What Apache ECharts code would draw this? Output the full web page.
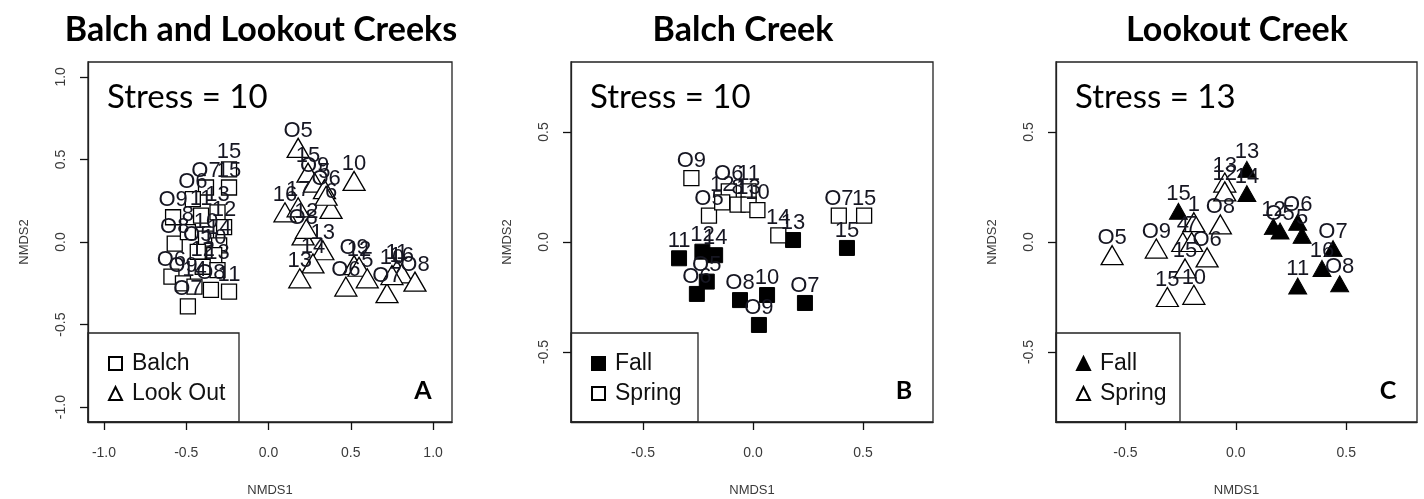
<!DOCTYPE html>
<html>
<head>
<meta charset="utf-8">
<script src="https://cdn.jsdelivr.net/npm/echarts@6/dist/echarts.min.js"></script>
<style>
  html, body { margin: 0; padding: 0; background: #fff; }
  #chart { width: 1424px; height: 499px; }
</style>
</head>
<body>
<div id="chart"></div>
<script>
// panel A: both creeks, [NMDS1, NMDS2, sample label]
const allBalch = [
  [-0.38, 0.33, 'O7'], [-0.24, 0.44, '15'], [-0.24, 0.33, '15'], [-0.46, 0.26, 'O6'],
  [-0.58, 0.15, 'O9'], [-0.31, 0.18, '13'], [-0.27, 0.09, '12'], [-0.41, 0.16, '11'],
  [-0.57, -0.01, 'O8'], [-0.49, 0.06, '8'], [-0.38, 0.02, '10'], [-0.30, -0.02, '14'],
  [-0.43, -0.06, 'O5'], [-0.33, -0.08, '10'], [-0.59, -0.21, 'O6'], [-0.40, -0.15, '12'],
  [-0.31, -0.17, '13'], [-0.52, -0.25, 'O9'], [-0.45, -0.27, '14'], [-0.35, -0.29, 'O8'],
  [-0.24, -0.30, '11'], [-0.49, -0.39, 'O7']
];
const allLookout = [
  [0.18, 0.57, 'O5'], [0.24, 0.42, '15'], [0.28, 0.36, 'O9'], [0.34, 0.32, '5'],
  [0.52, 0.37, '10'], [0.38, 0.20, '6'], [0.10, 0.18, '16'], [0.18, 0.21, '17'],
  [0.35, 0.28, 'O6'], [0.21, 0.04, 'O8'], [0.23, 0.08, '12'], [0.33, -0.05, '13'],
  [0.27, -0.13, '14'], [0.19, -0.22, '13'], [0.47, -0.27, 'O6'], [0.52, -0.14, 'O9'],
  [0.55, -0.15, '12'], [0.60, -0.22, '5'], [0.72, -0.31, 'O7'], [0.78, -0.17, '11'],
  [0.81, -0.19, '16'], [0.89, -0.24, 'O8'], [0.75, -0.20, '10']
];

// panel B: Balch Creek by season
const balchFall = [
  [-0.336, -0.074, '11'], [-0.23, -0.044, '12'], [-0.172, -0.06, '14'], [-0.21, -0.18, 'O5'],
  [-0.255, -0.236, 'O6'], [-0.059, -0.264, 'O8'], [0.064, -0.241, '10'], [0.027, -0.377, 'O9'],
  [0.236, -0.277, 'O7'], [0.182, 0.009, '13'], [0.427, -0.027, '15']
];
const balchSpring = [
  [-0.28, 0.29, 'O9'], [-0.20, 0.12, 'O5'], [-0.11, 0.23, 'O6'], [-0.02, 0.23, '11'],
  [-0.14, 0.18, '12'], [-0.07, 0.17, '8'], [-0.02, 0.17, '13'], [0.02, 0.145, '10'],
  [0.115, 0.03, '14'], [0.39, 0.12, 'O7'], [0.505, 0.12, '15']
];

// panel C: Lookout Creek by season
const lookFall = [
  [0.05, 0.33, '13'], [0.05, 0.22, '14'], [0.17, 0.07, '12'], [0.20, 0.05, 'O5'],
  [0.28, 0.09, 'O6'], [0.30, 0.03, '5'], [0.44, -0.03, 'O7'], [0.39, -0.12, '16'],
  [0.28, -0.20, '11'], [0.47, -0.19, 'O8'], [-0.26, 0.14, '15']
];
const lookSpring = [
  [-0.56, -0.06, 'O5'], [-0.36, -0.03, 'O9'], [-0.24, 0.0, '4'], [-0.20, 0.0, '7'],
  [-0.19, 0.09, '1'], [-0.13, -0.07, 'O6'], [-0.23, -0.12, '15'], [-0.31, -0.25, '15'],
  [-0.19, -0.24, '10'], [-0.07, 0.08, 'O8'], [-0.05, 0.27, '13'], [-0.05, 0.23, '12']
];

const ticksA = [-1.0, -0.5, 0.0, 0.5, 1.0];
const ticksBC = [-0.5, 0.0, 0.5];

const panelTitles = ['Balch and Lookout Creeks', 'Balch Creek', 'Lookout Creek'];
const stressText = ['Stress = 10', 'Stress = 10', 'Stress = 13'];
const panelLetters = ['A', 'B', 'C'];

const chart = echarts.init(document.getElementById('chart'));

const boxes = [
  { left: 88, width: 364, xr: [-1.097, 1.115], yr: [-1.09, 1.09], ticks: ticksA, legendW: 151, titleX: 261 },
  { left: 571, width: 362, xr: [-0.827, 0.818], yr: [-0.818, 0.818], ticks: ticksBC, legendW: 127, titleX: 743 },
  { left: 1056, width: 361, xr: [-0.814, 0.82], yr: [-0.818, 0.818], ticks: ticksBC, legendW: 124, titleX: 1237 }
];
const TOP = 62, H = 360;
const tickFont = { fontFamily: 'Liberation Sans', fontSize: 14, color: '#3a3a3a' };
const edge = { show: true, onZero: false, lineStyle: { color: '#222', width: 1.3 } };

const grid = boxes.map(b => ({
  left: b.left, top: TOP, width: b.width, height: H,
  outerBoundsMode: 'none', containLabel: false,
  show: true, borderColor: '#222', borderWidth: 1.3, backgroundColor: 'transparent'
}));

const fmt = v => v.toFixed(1);

const xAxis = boxes.map((b, i) => ({
  type: 'value', gridIndex: i, position: 'bottom', min: b.xr[0], max: b.xr[1],
  splitLine: { show: false }, axisLine: edge,
  axisTick: { show: true, inside: false, length: 8, customValues: b.ticks, lineStyle: { color: '#111', width: 1.3 } },
  axisLabel: { customValues: b.ticks, formatter: fmt, margin: 24, ...tickFont },
  name: 'NMDS1', nameLocation: 'middle', nameGap: 62,
  nameTextStyle: { ...tickFont, fontSize: 13 }
}));

const yAxis = boxes.map((b, i) => ({
  type: 'value', gridIndex: i, position: 'left', min: b.yr[0], max: b.yr[1],
  splitLine: { show: false }, axisLine: edge,
  axisTick: { show: true, inside: false, length: 8, customValues: b.ticks, lineStyle: { color: '#111', width: 1.3 } },
  axisLabel: { customValues: b.ticks, formatter: fmt, rotate: 90, margin: 20, ...tickFont },
  name: 'NMDS2', nameLocation: 'middle', nameGap: 57, nameRotate: 90,
  nameTextStyle: { ...tickFont, fontSize: 13 }
}));

const ptLabel = {
  show: true, position: 'inside', offset: [0, -17],
  formatter: p => p.data[2],
  fontFamily: 'Liberation Sans', fontSize: 22, color: '#161622'
};

const openStyle = { color: '#fff', borderColor: '#000', borderWidth: 1.3, opacity: 1 };
const fillStyle = { color: '#000', borderColor: '#000', borderWidth: 1, opacity: 1 };

const makeSeries = (name, data, idx, symbol, size, style) => ({
  name, type: 'scatter', xAxisIndex: idx, yAxisIndex: idx, data,
  symbol, symbolSize: size, itemStyle: style, label: ptLabel,
  emphasis: { disabled: true }
});

const series = [
  makeSeries('Balch', allBalch, 0, 'rect', 15, openStyle),
  makeSeries('Look Out', allLookout, 0, 'triangle', [22, 19], openStyle),
  makeSeries('Fall (B)', balchFall, 1, 'rect', 15, fillStyle),
  makeSeries('Spring (B)', balchSpring, 1, 'rect', 15, openStyle),
  makeSeries('Fall (C)', lookFall, 2, 'triangle', [18, 16], fillStyle),
  makeSeries('Spring (C)', lookSpring, 2, 'triangle', [22, 19], openStyle)
];

const legendNames = [['Balch', 'Look Out'], ['Fall (B)', 'Spring (B)'], ['Fall (C)', 'Spring (C)']];
const legend = boxes.map((b, i) => ({
  data: legendNames[i], orient: 'vertical', left: b.left + 15, top: 347,
  itemWidth: 13, itemHeight: 13, itemGap: 7, selectedMode: false,
  formatter: n => n.replace(/ \(.\)$/, ''),
  textStyle: { fontFamily: 'Liberation Sans', fontSize: 23, color: '#111', padding: [0, 0, 0, 5] }
}));

const graphic = [];
boxes.forEach((b, i) => {
  graphic.push({
    type: 'text', silent: true,
    style: {
      text: panelTitles[i], x: b.titleX, y: 30, align: 'center', verticalAlign: 'middle',
      fontFamily: 'Lato', fontWeight: 'bold', fontSize: 34, fill: '#000'
    }
  });
  graphic.push({
    type: 'text', silent: true,
    style: {
      text: stressText[i], x: b.left + 19, y: 97, verticalAlign: 'middle',
      fontFamily: 'Lato', fontSize: 33, fill: '#000'
    }
  });
  graphic.push({
    type: 'text', silent: true,
    style: {
      text: panelLetters[i], x: b.left + b.width - 29, y: 391, align: 'center', verticalAlign: 'middle',
      fontFamily: 'Lato', fontWeight: 'bold', fontSize: 25, fill: '#000'
    }
  });
  graphic.push({
    type: 'rect', silent: true, z: -1,
    shape: { x: b.left, y: 333, width: b.legendW, height: 89 },
    style: { fill: '#fff', stroke: '#222', lineWidth: 1.3 }
  });
});

chart.setOption({
  animation: false,
  grid, xAxis, yAxis, series, legend, graphic
});
</script>
</body>
</html>
